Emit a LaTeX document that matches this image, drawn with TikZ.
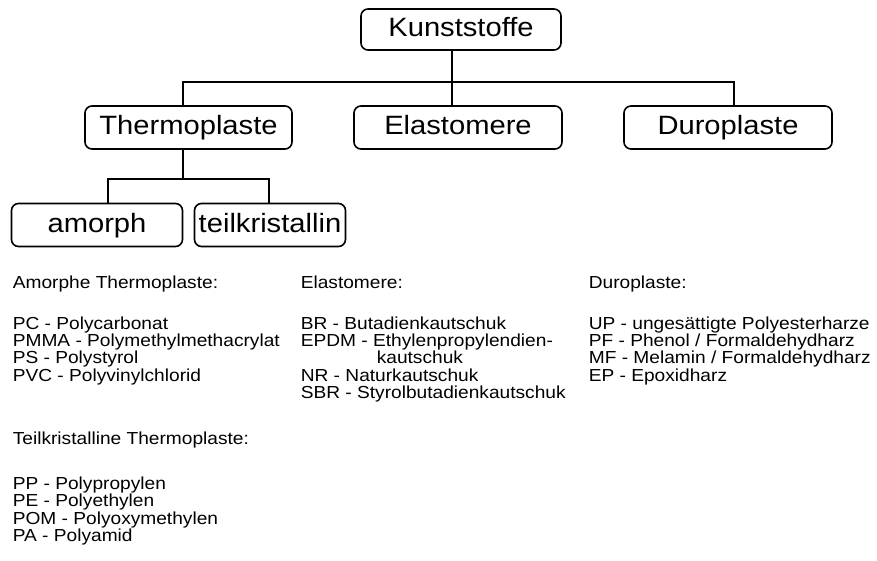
\documentclass[tikz,border=0pt]{standalone}
\usepackage{fontspec}
\setmainfont{Liberation Sans}
\newfontfamily\boxschrift[FakeStretch=1.1]{Liberation Sans}
\newfontfamily\listenschrift[FakeStretch=1.1]{Liberation Sans}
\newcommand\engzeilen{\lineskiplimit=-50pt\relax}

\begin{document}
\begin{tikzpicture}[x=1pt,y=-1pt,line width=1.6pt,
    box/.style={draw,rounded corners=7pt,inner sep=0pt,minimum height=43pt,
        text height=19pt,text depth=4pt,font=\boxschrift\fontsize{26.5}{28}\selectfont},
    liste/.style={anchor=north west,align=left,inner sep=0pt,
        font=\listenschrift\fontsize{17.4}{17.3}\selectfont\engzeilen}]
    \useasboundingbox (0,0) rectangle (877,561);

    \node[box,minimum width=200pt,minimum height=41pt] (kunst) at (461,29.5) {Kunststoffe};
    \node[box,minimum width=207pt] (thermo) at (188.5,127.5) {Thermoplaste};
    \node[box,minimum width=208pt] (elasto) at (458,127.5) {Elastomere};
    \node[box,minimum width=208pt] (duro) at (728,127.5) {Duroplaste};
    \node[box,minimum width=171pt] (amorph) at (97,225) {amorph};
    \node[box,minimum width=151pt] (teilk) at (270,225) {teilkristallin};

    \coordinate (bus) at (452,82);
    \coordinate (busl) at (183,82);
    \coordinate (busr) at (734,82);
    \draw (kunst.south -| bus) -- (elasto.north -| bus);
    \draw (thermo.north -| busl) |- (busr) -- (duro.north -| busr);

    \coordinate (gabel) at (183,179);
    \coordinate (gabell) at (108,179);
    \coordinate (gabelr) at (269,179);
    \draw (thermo.south -| gabel) -- (gabel);
    \draw (amorph.north -| gabell) |- (gabelr) -- (teilk.north -| gabelr);

    \node[liste] (thermoliste) at (12,275.5) {Amorphe Thermoplaste:\\[23pt]
        PC - Polycarbonat\\
        PMMA - Polymethylmethacrylat\\
        PS - Polystyrol\\
        PVC - Polyvinylchlorid\\[46pt]
        Teilkristalline Thermoplaste:\\[27.7pt]
        PP - Polypropylen\\
        PE - Polyethylen\\
        POM - Polyoxymethylen\\
        PA - Polyamid};
    \node[liste] (elastoliste) at (300,275.5) {Elastomere:\\[23pt]
        BR - Butadienkautschuk\\
        EPDM - Ethylenpropylendien-\\
        \hspace*{76pt}kautschuk\\
        NR - Naturkautschuk\\
        SBR - Styrolbutadienkautschuk};
    \node[liste] (duroliste) at (588,275.5) {Duroplaste:\\[23pt]
        UP - ungesättigte Polyesterharze\\
        PF - Phenol / Formaldehydharz\\
        MF - Melamin / Formaldehydharz\\
        EP - Epoxidharz};
\end{tikzpicture}
\end{document}
